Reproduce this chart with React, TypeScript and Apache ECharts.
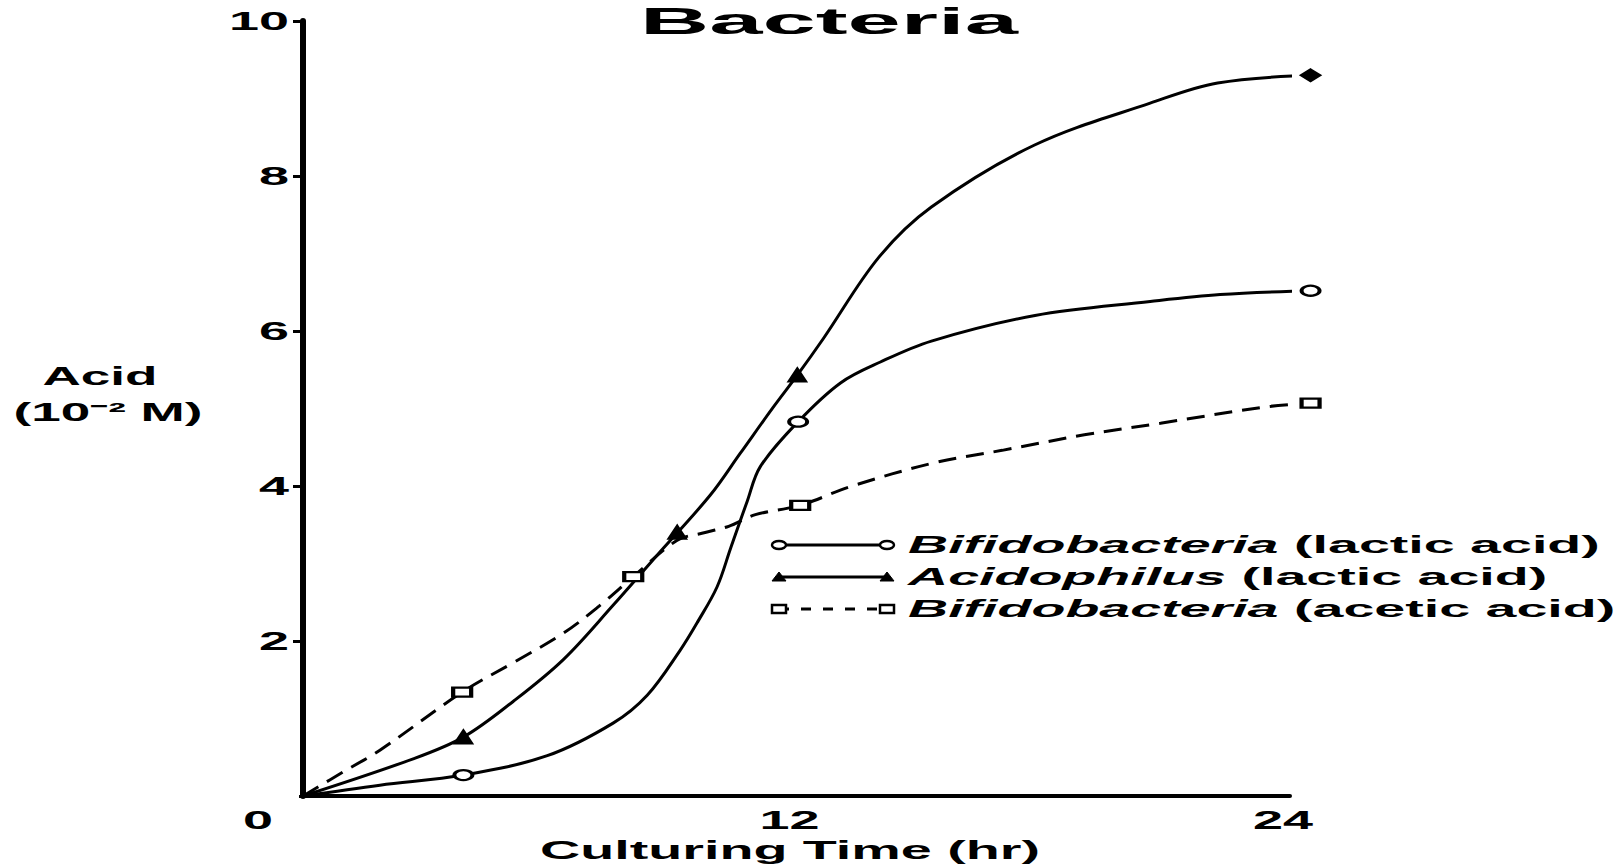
import React, { useEffect, useRef } from 'react';
import * as echarts from 'echarts';

const FONT = '"Liberation Sans", Arial, Helvetica, sans-serif';

// ---- texts ----
const titleText = 'Bacteria';
const xAxisName = 'Culturing Time (hr)';
const yAxisNameTop = 'Acid';
const yAxisNameBottom = '(10⁻² M)';
const xTicks = [0, 12, 24];
const yTicks = [2, 4, 6, 8, 10];
const legendSpecies = ['Bifidobacteria', 'Acidophilus', 'Bifidobacteria'];
const legendAcid = ['(lactic acid)', '(lactic acid)', '(acetic acid)'];
const seriesNames = [
  'Bifidobacteria (lactic acid)',
  'Acidophilus (lactic acid)',
  'Bifidobacteria (acetic acid)',
];

// ---- traced curves (hours, 10^-2 M) ----
const bifLacticCurve = [
  [0, 0], [1.87, 0.14], [3.9, 0.27], [5.94, 0.52], [7.54, 0.94], [8.37, 1.3],
  [9.17, 1.88], [9.6, 2.25], [10.07, 2.7], [10.4, 3.2], [10.8, 3.8], [11.12, 4.25],
  [12.04, 4.83], [13.07, 5.33], [14.04, 5.6], [15.28, 5.87], [17.8, 6.2],
  [20.6, 6.38], [22.3, 6.47], [24.5, 6.52],
];
const acidophilusCurve = [
  [0, 0], [2.68, 0.48], [3.9, 0.76], [5.11, 1.22], [6.33, 1.76], [7.54, 2.46],
  [8.6, 3.1], [9.9, 3.88], [10.63, 4.42], [11.44, 5.02], [12.02, 5.43],
  [12.65, 5.9], [14.0, 6.95], [15.28, 7.6], [17.79, 8.4], [20.6, 8.94],
  [22.24, 9.2], [24.5, 9.3],
];
const aceticCurve = [
  [0, 0], [1.07, 0.34], [1.87, 0.59], [3.87, 1.34], [5.11, 1.72], [6.33, 2.1],
  [7.2, 2.45], [8.03, 2.83], [9.1, 3.3], [9.7, 3.39], [10.35, 3.48], [11.0, 3.63],
  [12.09, 3.75], [13.3, 3.99], [15.35, 4.3], [17.0, 4.46], [19.0, 4.66],
  [20.85, 4.81], [23.4, 5.02], [24.5, 5.07],
];

// ---- plotted markers ----
const bifLacticMarks = [[3.9, 0.27], [12.04, 4.83], [24.5, 6.52]];
const acidophilusMarks = [[3.9, 0.76], [9.1, 3.4], [12.02, 5.43]];
const acidophilusEndMarks = [[24.5, 9.3]];
const aceticMarks = [[3.87, 1.34], [8.03, 2.83], [12.09, 3.75], [24.5, 5.07]];

function measure(text: string, font: string): number {
  const ctx = document.createElement('canvas').getContext('2d')!;
  ctx.font = font;
  return ctx.measureText(text).width || 1;
}

function stretched(text: string, x: number, y: number, size: number, width: number, align = 'center') {
  const w = measure(text, `bold ${size}px ${FONT}`);
  return {
    type: 'text',
    x,
    y,
    scaleX: width / w,
    silent: true,
    style: {
      text,
      fontFamily: FONT,
      fontWeight: 'bold',
      fontSize: size,
      fill: '#000',
      align,
      verticalAlign: 'middle',
    },
  };
}

export default function App() {
  const ref = useRef<HTMLDivElement>(null);

  useEffect(() => {
    const el = ref.current!;
    const chart = echarts.init(el, null, { renderer: 'svg' });
    const black = '#000';

    const lineSeries = (name: string, data: number[][], dashed: boolean) => ({
      type: 'line',
      name,
      data,
      smooth: 0.35,
      symbol: 'none',
      clip: false,
      z: 2,
      lineStyle: { color: black, width: 3, type: dashed ? [18, 10] : 'solid' },
    });
    const markSeries = (name: string, data: number[][], symbol: string, size: number[], fill: string) => ({
      type: 'scatter',
      name,
      data,
      symbol,
      symbolSize: size,
      clip: false,
      z: 3,
      itemStyle: { color: fill, borderColor: black, borderWidth: 3, opacity: 1 },
    });

    chart.setOption({
      animation: false,
      backgroundColor: '#fff',
      grid: { left: 303, right: 332, top: 21, bottom: 71 },
      xAxis: {
        type: 'value',
        min: 0,
        max: 24,
        interval: 12,
        axisLine: { show: true, lineStyle: { color: black, width: 4 } },
        axisTick: { show: false },
        axisLabel: { show: false },
        splitLine: { show: false },
      },
      yAxis: {
        type: 'value',
        min: 0,
        max: 10,
        interval: 2,
        axisLine: { show: true, lineStyle: { color: black, width: 6 } },
        axisTick: { show: true, length: 10, lineStyle: { color: black, width: 3 } },
        axisLabel: { show: false },
        splitLine: { show: false },
      },
      series: [
        lineSeries(seriesNames[0], bifLacticCurve, false),
        lineSeries(seriesNames[1], acidophilusCurve, false),
        lineSeries(seriesNames[2], aceticCurve, true),
        markSeries(seriesNames[0], bifLacticMarks, 'circle', [18, 10], '#fff'),
        markSeries(seriesNames[1], acidophilusMarks, 'triangle', [16, 12], black),
        markSeries(seriesNames[1], acidophilusEndMarks, 'diamond', [18, 11], black),
        markSeries(seriesNames[2], aceticMarks, 'rect', [18, 9], '#fff'),
      ],
    });

    const toPx = (v: number[]) => chart.convertToPixel({ gridIndex: 0 }, v) as number[];
    const [ox, oy] = toPx([0, 0]);
    const graphics: any[] = [];

    // title & axis names
    graphics.push(stretched(titleText, 829, 22, 36, 378));
    graphics.push(stretched(yAxisNameTop, 100, 376, 25, 115));
    graphics.push(stretched(yAxisNameBottom, 108, 412, 25, 188));
    graphics.push(stretched(xAxisName, 790, 850, 25, 500));

    // tick labels
    const digitScale = 30 / measure('0', `bold 25px ${FONT}`);
    xTicks.forEach((v) => {
      const [px] = toPx([v, 0]);
      const t = String(v);
      const w = measure(t, `bold 25px ${FONT}`) * digitScale;
      if (v === 0) graphics.push(stretched(t, ox - 30, oy + 24, 25, w, 'right'));
      else graphics.push(stretched(t, px - 7, oy + 24, 25, w, 'center'));
    });
    yTicks.forEach((v) => {
      const [, py] = toPx([0, v]);
      const t = String(v);
      const w = measure(t, `bold 25px ${FONT}`) * digitScale;
      graphics.push(stretched(t, ox - 14, py, 25, w, 'right'));
    });
    // hide the y-axis tick at 0 (not drawn in the original)
    graphics.push({ type: 'rect', shape: { x: ox - 14, y: oy - 3, width: 10, height: 6 }, style: { fill: '#fff' }, silent: true, z: 100 });

    // legend
    const lSize = 24;
    const w1 =
      measure(legendSpecies[0], `italic bold ${lSize}px ${FONT}`) +
      measure(' ' + legendAcid[0], `bold ${lSize}px ${FONT}`);
    const lScale = 692 / w1;
    const rows = [545, 577, 609];
    rows.forEach((ry, i) => {
      graphics.push({
        type: 'text',
        x: 908,
        y: ry,
        scaleX: lScale,
        silent: true,
        style: {
          text: `{i|${legendSpecies[i]}}{n| ${legendAcid[i]}}`,
          fontFamily: FONT,
          fontWeight: 'bold',
          fontSize: lSize,
          fill: black,
          align: 'left',
          verticalAlign: 'middle',
          rich: {
            i: { fontFamily: FONT, fontStyle: 'italic', fontWeight: 'bold', fontSize: lSize, fill: black },
            n: { fontFamily: FONT, fontWeight: 'bold', fontSize: lSize, fill: black },
          },
        },
      });
    });
    // legend samples
    const x1 = 779;
    const x2 = 887;
    graphics.push({ type: 'line', shape: { x1, y1: rows[0], x2, y2: rows[0] }, style: { stroke: black, lineWidth: 3 }, silent: true });
    [x1, x2].forEach((cx) =>
      graphics.push({ type: 'ellipse', shape: { cx, cy: rows[0], rx: 7, ry: 4 }, style: { fill: '#fff', stroke: black, lineWidth: 2.5 }, silent: true })
    );
    graphics.push({ type: 'line', shape: { x1, y1: rows[1], x2, y2: rows[1] }, style: { stroke: black, lineWidth: 3 }, silent: true });
    [x1, x2].forEach((cx) =>
      graphics.push({
        type: 'polygon',
        shape: { points: [[cx - 7, rows[1] + 4], [cx + 7, rows[1] + 4], [cx, rows[1] - 5]] },
        style: { fill: black, stroke: black, lineWidth: 1 },
        silent: true,
      })
    );
    graphics.push({ type: 'line', shape: { x1, y1: rows[2], x2, y2: rows[2] }, style: { stroke: black, lineWidth: 3, lineDash: [10, 12] }, silent: true });
    [x1, x2].forEach((cx) =>
      graphics.push({ type: 'rect', shape: { x: cx - 7, y: rows[2] - 4, width: 14, height: 8 }, style: { fill: '#fff', stroke: black, lineWidth: 2.5 }, silent: true })
    );

    chart.setOption({ graphic: graphics });

    return () => chart.dispose();
  }, []);

  return <div ref={ref} style={{ position: 'fixed', left: 0, top: 0, width: 1622, height: 867 }} />;
}
